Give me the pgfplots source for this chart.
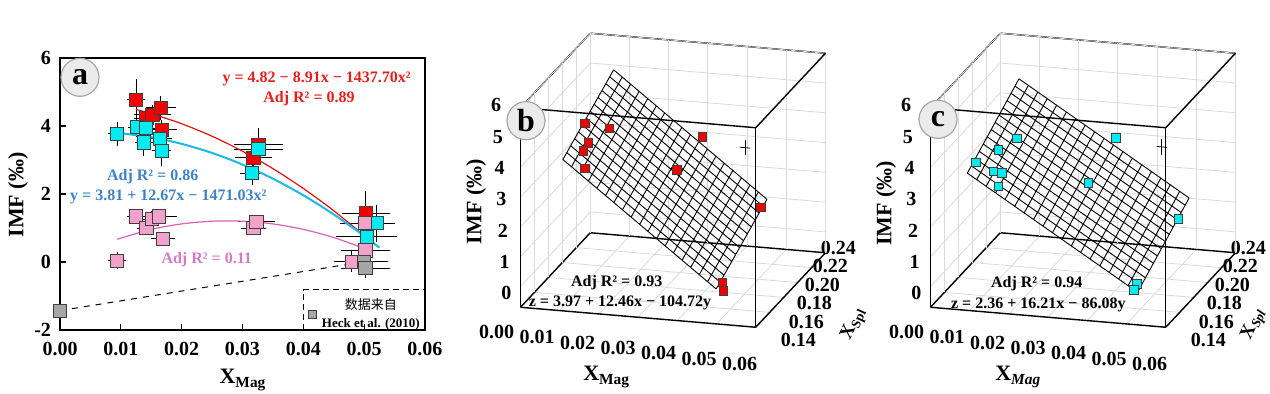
\documentclass[border=0pt]{standalone}
\usepackage{fontspec}
\setmainfont{Liberation Serif}
\newfontfamily\cjk{Noto Sans CJK SC}
\usepackage{pgfplots}
\usepackage{pgfplotstable}
\pgfplotsset{compat=1.18}

\definecolor{redc}{HTML}{F20000}
\definecolor{cyanc}{HTML}{00ECF2}
\definecolor{pinkc}{HTML}{F2A2CA}
\definecolor{grayc}{HTML}{A6A6A6}
\definecolor{redline}{HTML}{E01010}
\definecolor{cyanline}{HTML}{1DB9E6}
\definecolor{pinkline}{HTML}{D860B8}
\definecolor{redtext}{HTML}{E3201C}
\definecolor{bluetext}{HTML}{3D82C4}
\definecolor{pinktext}{HTML}{D57AC4}
\definecolor{gridc}{HTML}{DADADA}

\pgfplotstableread{
x y ex ey
0.0125 4.77 0.0015 0.60
0.0142 4.23 0.0020 0.30
0.0152 4.33 0.0030 0.30
0.0166 4.53 0.0025 0.35
0.0167 3.89 0.0025 0.30
0.0318 3.06 0.0030 0.40
0.0326 3.45 0.0040 0.50
0.0503 1.44 0.0040 0.65
}\redA
\pgfplotstableread{
x y ex ey
0.0094 3.77 0.0015 0.35
0.0126 3.97 0.0015 0.30
0.0141 3.94 0.0015 0.30
0.0138 3.52 0.0015 0.40
0.0164 3.62 0.0020 0.30
0.0167 3.27 0.0015 0.45
0.0316 2.61 0.0020 0.35
0.0326 3.32 0.0040 0.30
0.0504 0.75 0.0050 0.45
0.0521 1.14 0.0030 0.55
}\cyanA
\pgfplotstableread{
x y ex ey
0.0094 0.04 0.0015 0.25
0.0125 1.34 0.0015 0.20
0.0142 1.00 0.0015 0.20
0.0151 1.26 0.0020 0.25
0.0163 1.34 0.0030 0.20
0.0169 0.69 0.0020 0.20
0.0318 1.00 0.0020 0.20
0.0323 1.19 0.0030 0.20
0.0501 1.14 0.0040 0.40
0.0502 0.34 0.0040 0.30
0.0480 0.01 0.0030 0.30
}\pinkA
\pgfplotstableread{
x y ex ey
0.0000 -1.43 0.0000 0.00
0.0499 0.01 0.0040 0.30
0.0502 -0.18 0.0040 0.30
}\grayA

\pgfplotsset{
 threed/.style={
  anchor=origin,
  x={(1960.4pt,-166.7pt)}, y={(348.75pt,372.5pt)}, z={(0pt,14.89pt)},
  xmin=0,xmax=0.06,ymin=0.14,ymax=0.24,zmin=-0.7,zmax=6,
  3d box=complete,
  axis line style={line width=0.7pt},
  grid=major, major grid style={gridc, line width=0.4pt},
  tick style={draw=none},
  scaled ticks=false,
  xtick={0,0.01,0.02,0.03,0.04,0.05,0.06},
  xticklabels={0.00,0.01,0.02,0.03,0.04,0.05,0.06},
  ytick={0.14,0.16,0.18,0.20,0.22,0.24},
  yticklabels={0.14,0.16,0.18,0.20,0.22,0.24},
  ztick={0,1,2,3,4,5,6},
  zticklabels={0,1,2,3,4,5,6},
  ticklabel style={font=\bfseries\fontsize{10}{10}\selectfont},
  xticklabel style={anchor=north east, inner sep=2pt,
     xshift={-1pt+0.65pt*\ticknum}, yshift={-6.8pt-1pt*\ticknum}},
  yticklabel style={anchor=west, inner sep=2pt,
     xshift={10.35pt-2.97pt*\ticknum}, yshift={-6.5pt+1.8pt*\ticknum}},
  zticklabel style={anchor=east,
     xshift={-1pt-0.86pt*\ticknum}, yshift={-3.35pt+0.75pt*\ticknum}},
  clip=false,
 },
 sq/.style={only marks, mark=square*, mark size=3.3pt,
   mark options={fill=#1, draw=black!75, line width=0.4pt},
   /pgfplots/error bars/x dir=both, /pgfplots/error bars/x explicit,
   /pgfplots/error bars/y dir=both, /pgfplots/error bars/y explicit,
   /pgfplots/error bars/error mark=none,
   /pgfplots/error bars/error bar style={black, line width=0.5pt}},
 sq3/.style={only marks, mark=square*, mark size=2.1pt,
   mark options={fill=#1, draw=black!75, line width=0.35pt}},
}

\begin{document}
\begin{tikzpicture}
\useasboundingbox (0,0) rectangle (635pt,196.5pt);

% ---------------- panel a ----------------
\begin{axis}[
 at={(30pt,31.5pt)}, anchor=south west, scale only axis,
 width=182.5pt, height=136pt,
 xmin=0, xmax=0.06, ymin=-2, ymax=6,
 axis line style={line width=0.9pt},
 tick pos=left, tick align=inside, major tick length=3pt,
 tick style={line width=0.6pt, black},
 scaled ticks=false,
 xtick={0,0.01,0.02,0.03,0.04,0.05,0.06},
 xticklabels={0.00,0.01,0.02,0.03,0.04,0.05,0.06},
 ytick={-2,0,2,4,6}, yticklabels={-2,0,2,4,6},
 ticklabel style={font=\bfseries\fontsize{10}{10}\selectfont},
 xticklabel style={yshift=-2.5pt},
 yticklabel style={xshift=-1pt},
 clip=false,
 legend style={at={(axis cs:0.0405,-0.88)}, anchor=north west, draw=none, fill=none,
   font=\fontsize{6.5}{7.5}\selectfont, inner sep=1pt, column sep=1pt},
 legend cell align=center,
]
\addplot[black, dashed, line width=0.5pt, forget plot] coordinates {(0,-1.43) (0.049,-0.02)};
\addplot[sq=redc, forget plot] table[x=x,y=y,x error=ex,y error=ey] {\redA};
\addplot[sq=cyanc, forget plot] table[x=x,y=y,x error=ex,y error=ey] {\cyanA};
\addplot[sq=pinkc, forget plot] table[x=x,y=y,x error=ex,y error=ey] {\pinkA};
\addplot[sq=grayc, legend image post style={mark size=1.8pt}] table[x=x,y=y,x error=ex,y error=ey] {\grayA};
\addlegendentry{\shortstack{{\cjk 数据来自}\\[1pt]\bfseries Heck et al. (2010)}}
\addplot[redline, line width=0.6pt, smooth, mark=none, forget plot] coordinates {
(0.0125,4.484) (0.015,4.363) (0.02,4.067) (0.025,3.699) (0.03,3.259) (0.035,2.747) (0.04,2.163) (0.045,1.508) (0.05,0.780)};
\addplot[cyanline, line width=1pt, smooth, mark=none, forget plot] coordinates {
(0.0094,3.799) (0.015,3.669) (0.02,3.475) (0.025,3.207) (0.03,2.866) (0.035,2.451) (0.04,1.963) (0.045,1.401) (0.05,0.766) (0.0525,0.421)};
\addplot[pinkline, line width=0.6pt, smooth, mark=none, forget plot] coordinates {
(0.0094,0.67) (0.015,0.96) (0.02,1.12) (0.025,1.20) (0.03,1.20) (0.035,1.12) (0.04,0.96) (0.045,0.72) (0.05,0.40)};
\draw[dashed, dash pattern=on 3pt off 2pt, line width=0.5pt] (axis cs:0.04,-2) -- (axis cs:0.04,-0.82) -- (axis cs:0.06,-0.82);
\end{axis}

% ---------------- panel b ----------------
\begin{axis}[threed, at={(260.25pt,53.3pt)}]
\addplot3[black, line width=0.45pt, mark=none, unbounded coords=jump] coordinates {
(0.0097,0.1462,4.215) (0.0097,0.219,5.405) (nan,nan,nan)
(0.0119,0.1462,3.998) (0.0119,0.219,5.188) (nan,nan,nan)
(0.0140,0.1462,3.781) (0.0140,0.219,4.971) (nan,nan,nan)
(0.0162,0.1462,3.563) (0.0162,0.219,4.753) (nan,nan,nan)
(0.0184,0.1462,3.346) (0.0184,0.219,4.536) (nan,nan,nan)
(0.0206,0.1462,3.129) (0.0206,0.219,4.319) (nan,nan,nan)
(0.0227,0.1462,2.912) (0.0227,0.219,4.102) (nan,nan,nan)
(0.0249,0.1462,2.694) (0.0249,0.219,3.884) (nan,nan,nan)
(0.0271,0.1462,2.477) (0.0271,0.219,3.667) (nan,nan,nan)
(0.0293,0.1462,2.260) (0.0293,0.219,3.450) (nan,nan,nan)
(0.0314,0.1462,2.043) (0.0314,0.219,3.233) (nan,nan,nan)
(0.0336,0.1462,1.826) (0.0336,0.219,3.016) (nan,nan,nan)
(0.0358,0.1462,1.608) (0.0358,0.219,2.798) (nan,nan,nan)
(0.0379,0.1462,1.391) (0.0379,0.219,2.581) (nan,nan,nan)
(0.0401,0.1462,1.174) (0.0401,0.219,2.364) (nan,nan,nan)
(0.0423,0.1462,0.957) (0.0423,0.219,2.147) (nan,nan,nan)
(0.0445,0.1462,0.739) (0.0445,0.219,1.929) (nan,nan,nan)
(0.0466,0.1462,0.522) (0.0466,0.219,1.712) (nan,nan,nan)
(0.0488,0.1462,0.305) (0.0488,0.219,1.495) (nan,nan,nan)
(0.0097,0.1462,4.215) (0.0488,0.1462,0.305) (nan,nan,nan)
(0.0097,0.1518,4.307) (0.0488,0.1518,0.397) (nan,nan,nan)
(0.0097,0.1574,4.398) (0.0488,0.1574,0.488) (nan,nan,nan)
(0.0097,0.1630,4.490) (0.0488,0.1630,0.580) (nan,nan,nan)
(0.0097,0.1686,4.581) (0.0488,0.1686,0.671) (nan,nan,nan)
(0.0097,0.1742,4.673) (0.0488,0.1742,0.763) (nan,nan,nan)
(0.0097,0.1798,4.764) (0.0488,0.1798,0.854) (nan,nan,nan)
(0.0097,0.1854,4.856) (0.0488,0.1854,0.946) (nan,nan,nan)
(0.0097,0.1910,4.947) (0.0488,0.1910,1.037) (nan,nan,nan)
(0.0097,0.1966,5.039) (0.0488,0.1966,1.129) (nan,nan,nan)
(0.0097,0.2022,5.130) (0.0488,0.2022,1.220) (nan,nan,nan)
(0.0097,0.2078,5.222) (0.0488,0.2078,1.312) (nan,nan,nan)
(0.0097,0.2134,5.313) (0.0488,0.2134,1.403) (nan,nan,nan)
(0.0097,0.2190,5.405) (0.0488,0.2190,1.495)
};
\addplot3[sq3=redc] coordinates {
(0.0125,0.1622,5.06) (0.0166,0.1740,4.64) (0.0142,0.1573,4.55) (0.0152,0.1446,4.61)
(0.0163,0.1409,4.12) (0.0318,0.2219,3.33) (0.0326,0.1807,3.26) (0.0503,0.2021,1.66)
(0.0500,0.1487,0.47) (0.0502,0.1486,0.20)};
\draw[black, line width=0.4pt] (axis cs:0.0537,0.1526,4.96) -- (axis cs:0.0563,0.1526,4.96);
\draw[black, line width=0.4pt] (axis cs:0.055,0.1526,4.70) -- (axis cs:0.055,0.1526,5.22);
\end{axis}

% ---------------- panel c ----------------
\begin{axis}[threed, at={(465.25pt,53.3pt)}]
\addplot3[black, line width=0.45pt, mark=none, unbounded coords=jump] coordinates {
(0.0084,0.1456,3.758) (0.0084,0.2196,5.073) (nan,nan,nan)
(0.0108,0.1456,3.563) (0.0108,0.2196,4.878) (nan,nan,nan)
(0.0132,0.1456,3.367) (0.0132,0.2196,4.682) (nan,nan,nan)
(0.0156,0.1456,3.172) (0.0156,0.2196,4.487) (nan,nan,nan)
(0.0180,0.1456,2.977) (0.0180,0.2196,4.292) (nan,nan,nan)
(0.0205,0.1456,2.782) (0.0205,0.2196,4.097) (nan,nan,nan)
(0.0229,0.1456,2.586) (0.0229,0.2196,3.901) (nan,nan,nan)
(0.0253,0.1456,2.391) (0.0253,0.2196,3.706) (nan,nan,nan)
(0.0277,0.1456,2.196) (0.0277,0.2196,3.511) (nan,nan,nan)
(0.0301,0.1456,2.000) (0.0301,0.2196,3.315) (nan,nan,nan)
(0.0325,0.1456,1.805) (0.0325,0.2196,3.120) (nan,nan,nan)
(0.0349,0.1456,1.610) (0.0349,0.2196,2.925) (nan,nan,nan)
(0.0373,0.1456,1.415) (0.0373,0.2196,2.730) (nan,nan,nan)
(0.0397,0.1456,1.219) (0.0397,0.2196,2.534) (nan,nan,nan)
(0.0422,0.1456,1.024) (0.0422,0.2196,2.339) (nan,nan,nan)
(0.0446,0.1456,0.829) (0.0446,0.2196,2.144) (nan,nan,nan)
(0.0470,0.1456,0.634) (0.0470,0.2196,1.949) (nan,nan,nan)
(0.0494,0.1456,0.438) (0.0494,0.2196,1.753) (nan,nan,nan)
(0.0518,0.1456,0.243) (0.0518,0.2196,1.558) (nan,nan,nan)
(0.0084,0.1456,3.758) (0.0518,0.1456,0.243) (nan,nan,nan)
(0.0084,0.1513,3.859) (0.0518,0.1513,0.344) (nan,nan,nan)
(0.0084,0.1570,3.960) (0.0518,0.1570,0.445) (nan,nan,nan)
(0.0084,0.1627,4.061) (0.0518,0.1627,0.546) (nan,nan,nan)
(0.0084,0.1684,4.163) (0.0518,0.1684,0.648) (nan,nan,nan)
(0.0084,0.1741,4.264) (0.0518,0.1741,0.749) (nan,nan,nan)
(0.0084,0.1798,4.365) (0.0518,0.1798,0.850) (nan,nan,nan)
(0.0084,0.1854,4.466) (0.0518,0.1854,0.951) (nan,nan,nan)
(0.0084,0.1911,4.567) (0.0518,0.1911,1.052) (nan,nan,nan)
(0.0084,0.1968,4.668) (0.0518,0.1968,1.153) (nan,nan,nan)
(0.0084,0.2025,4.770) (0.0518,0.2025,1.255) (nan,nan,nan)
(0.0084,0.2082,4.871) (0.0518,0.2082,1.356) (nan,nan,nan)
(0.0084,0.2139,4.972) (0.0518,0.2139,1.457) (nan,nan,nan)
(0.0084,0.2196,5.073) (0.0518,0.2196,1.558)
};
\addplot3[sq3=cyanc] coordinates {
(0.0094,0.1523,3.96) (0.0126,0.1664,4.07) (0.0164,0.1714,4.36) (0.0141,0.1508,3.75)
(0.0167,0.1482,3.79) (0.0138,0.1596,3.03) (0.0316,0.2279,3.14) (0.0326,0.1830,2.77)
(0.0521,0.2027,1.28) (0.0504,0.1523,0.34) (0.0502,0.1496,0.20)};
\draw[black, line width=0.4pt] (axis cs:0.0552,0.1539,4.97) -- (axis cs:0.0578,0.1539,4.97);
\draw[black, line width=0.4pt] (axis cs:0.0565,0.1539,4.71) -- (axis cs:0.0565,0.1539,5.23);
\end{axis}

% ---------------- texts (pixel coordinates) ----------------
\begin{scope}[x=0.5pt, y=-0.5pt, yshift=196.5pt]
\tikzset{lab/.style={font=\bfseries\fontsize{11}{11}\selectfont},
         eq/.style={font=\bfseries\fontsize{8}{8}\selectfont},
         spl/.style={font=\bfseries\fontsize{9.5}{9.5}\selectfont, rotate=65, inner sep=0pt},
         badge/.style={circle, draw=black!35, fill=black!8, line width=0.6pt,
           minimum size=19pt, inner sep=0pt, font=\bfseries\fontsize{16}{16}\selectfont}}
% panel a
\node[eq, text=redtext] at (316.7,79.3) {y = 4.82 − 8.91x − 1437.70x²};
\node[eq, text=redtext] at (309,98.7) {Adj R² = 0.89};
\node[eq, text=bluetext] at (152.7,176.7) {Adj R² = 0.86};
\node[eq, text=bluetext] at (168.3,196.7) {y = 3.81 + 12.67x − 1471.03x²};
\node[eq, text=pinktext] at (206.7,260) {Adj R² = 0.11};
\node[badge] at (80,77.3) {a};
\node[lab] at (243,380) {X\textsubscript{Mag}};
\node[lab, rotate=90] at (18,195) {IMF (‰)};
% panel b
\node[badge] at (526,120.7) {b};
\node[eq] at (616.7,283) {Adj R² = 0.93};
\node[eq] at (620,303) {z = 3.97 + 12.46x − 104.72y};
\node[lab] at (606.7,377) {X\textsubscript{Mag}};
\node[lab, rotate=90] at (476,201.7) {IMF (‰)};
\node[spl] at (854,324) {X\textsubscript{Spl}};
% panel c
\node[badge] at (938,119.3) {c};
\node[eq] at (1036.7,283.3) {Adj R² = 0.94};
\node[eq] at (1038.3,305) {z = 2.36 + 16.21x − 86.08y};
\node[lab] at (1018.3,377) {X\textsubscript{\itshape Mag}};
\node[lab, rotate=90] at (886,203.3) {IMF (‰)};
\node[spl] at (1254,324) {X\textsubscript{\itshape Spl}};
\end{scope}
\end{tikzpicture}
\end{document}
